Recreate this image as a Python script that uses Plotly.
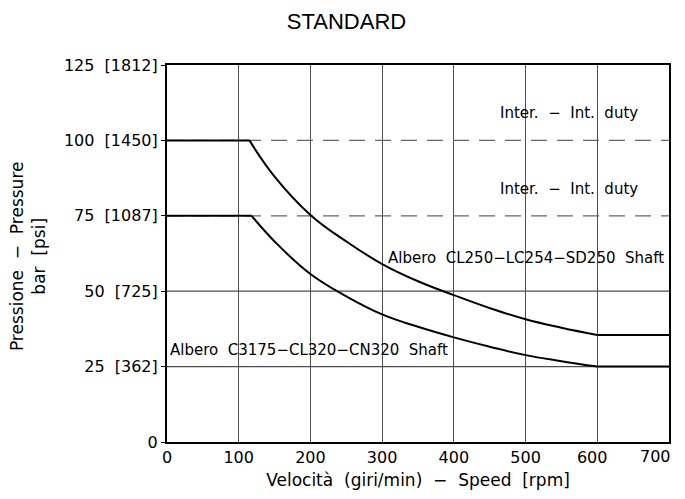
import plotly.graph_objects as go

# ---- data ----
speed_upper = [0, 115, 150, 200, 250, 300, 350, 400, 450, 500, 550, 600, 700]
pressure_upper = [100, 100, 88, 75.3, 66.5, 59, 53.3, 48.7, 44.4, 40.7, 37.9, 35.5, 35.5]

speed_lower = [0, 118, 150, 200, 250, 300, 350, 400, 450, 500, 550, 600, 700]
pressure_lower = [75, 75, 66.5, 55.7, 48.3, 42.3, 38.2, 34.7, 31.6, 28.8, 26.8, 25, 25]

duty_levels = [75, 100]        # dashed reference lines
solid_levels = [25, 50]        # solid horizontal grid lines
x_range = [0, 700]

y_tickvals = [0, 25, 50, 75, 100, 125]
y_ticktext = ["0", "25  [362]", "50  [725]", "75  [1087]", "100  [1450]", "125  [1812]"]
x_tickvals = [0, 100, 200, 300, 400, 500, 600, 700]
NB = "\u00a0"
# last label drawn separately (kept inside the page like the reference)
x_ticktext = ["0", "100", "200", "300", "400", "500", "600" + NB * 2, ""]
x_last_label = "700"

label_upper = "Albero  CL250\u2212LC254\u2212SD250  Shaft"
label_lower = "Albero  C3175\u2212CL320\u2212CN320  Shaft"
label_duty = "Inter.  \u2212  Int.  duty"

FONT = "DejaVu Sans"
GRID = "#4d4d4d"

fig = go.Figure()

# horizontal grid-like lines
for lvl in solid_levels:
    fig.add_trace(go.Scatter(x=x_range, y=[lvl, lvl], mode="lines",
                             line=dict(color=GRID, width=1.2), hoverinfo="skip", showlegend=False))
for lvl in duty_levels:
    fig.add_trace(go.Scatter(x=x_range, y=[lvl, lvl], mode="lines",
                             line=dict(color="#666666", width=1.3, dash="16px,10px"),
                             hoverinfo="skip", showlegend=False))

# curves: flat - curved - flat
for sx, py in [(speed_upper, pressure_upper), (speed_lower, pressure_lower)]:
    fig.add_trace(go.Scatter(x=sx[:2], y=py[:2], mode="lines",
                             line=dict(color="black", width=2), showlegend=False))
    fig.add_trace(go.Scatter(x=sx[1:-1], y=py[1:-1], mode="lines",
                             line=dict(color="black", width=2, shape="spline", smoothing=1.2),
                             showlegend=False))
    fig.add_trace(go.Scatter(x=sx[-2:], y=py[-2:], mode="lines",
                             line=dict(color="black", width=2), showlegend=False))

# white backgrounds behind labels (interrupt grid lines, stay below curves)
boxes = [(436, 688, 102.8, 114.4), (436, 688, 81.2, 89.8),
         (311, 690, 50.5, 65.5), (4, 390, 25.6, 36.1)]
for x0, x1, y0, y1 in boxes:
    fig.add_shape(type="rect", x0=x0, x1=x1, y0=y0, y1=y1, layer="below",
                  fillcolor="white", line=dict(width=0))

ann_font = dict(family=FONT, size=15, color="black")
fig.add_annotation(x=561, y=109.2, text=label_duty, showarrow=False, font=ann_font)
fig.add_annotation(x=561, y=84, text=label_duty, showarrow=False, font=ann_font)
fig.add_annotation(x=501, y=61, text=label_upper, showarrow=False, font=ann_font)
fig.add_annotation(x=198, y=30.4, text=label_lower, showarrow=False, font=ann_font)

# last x tick label, shifted left to stay inside the page
fig.add_annotation(x=x_tickvals[-1], xref="x", y=0, yref="paper", yanchor="top", xanchor="center",
                   xshift=-14, yshift=-3, text=x_last_label, showarrow=False,
                   font=dict(family=FONT, size=16, color="black"))

# y axis title (two lines, rotated)
fig.add_annotation(xref="paper", yref="paper", x=-0.277, y=0.493, xanchor="center", yanchor="middle",
                   text="Pressione  \u2212  Pressure<br>bar  [psi]", textangle=-90,
                   showarrow=False, font=dict(family=FONT, size=17, color="black"))

# page body has an 8px margin: figure is shifted by 8px right/down
fig.update_layout(
    width=677, height=491,
    margin=dict(l=159, r=16, t=57, b=57, autoexpand=False),
    paper_bgcolor="white", plot_bgcolor="white",
    title=dict(text="STANDARD", x=0.5, xref="container", y=0.9725, yref="container",
               xanchor="center", yanchor="middle",
               font=dict(family="Liberation Sans", size=22, color="black")),
    xaxis=dict(range=x_range, tickvals=x_tickvals, ticktext=x_ticktext,
               showgrid=True, gridcolor=GRID, gridwidth=1.2,
               zeroline=False, showline=True, linecolor="black", linewidth=2, mirror=True,
               automargin=False,
               ticks="", tickfont=dict(family=FONT, size=16, color="black"),
               title=dict(text="Velocit\u00e0  (giri/min)  \u2212  Speed  [rpm]",
                          font=dict(family=FONT, size=17, color="black"), standoff=8)),
    yaxis=dict(range=[0, 125], tickvals=y_tickvals, ticktext=y_ticktext, showgrid=False,
               zeroline=False, showline=True, linecolor="black", linewidth=2, mirror=True,
               automargin=False,
               ticks="outside", ticklen=4, tickcolor="black",
               tickfont=dict(family=FONT, size=16, color="black")),
)

fig.write_html("out.html")
